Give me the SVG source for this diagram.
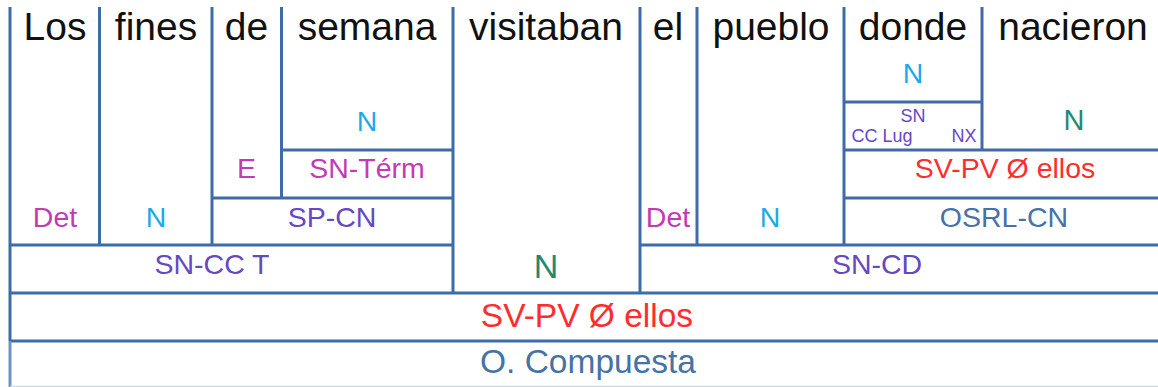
<svg xmlns="http://www.w3.org/2000/svg" width="1158" height="387" viewBox="0 0 1158 387">
<style>
text{font-family:"Liberation Sans",Arial,sans-serif;text-anchor:middle}
.w{font-size:39px;fill:#111}
.l{font-size:28.5px}
.b{font-size:33.5px}
.s{font-size:18px;fill:#6548c4}
.mag{fill:#c23bb5}
.cy{fill:#1ea8ec}
.pu{fill:#6548c4}
.gr{fill:#1f8a70}
.rd{fill:#ff2d2d}
.bl{fill:#4672a6}
.ln{stroke:#3d6ca6;stroke-width:3;fill:none}
</style>
<rect width="1158" height="387" fill="#fff"/>
<g id="grid" class="ln">
<path d="M10 7V341M99.5 7V245M212 7V245M281.5 7V198M453 7V293M640 7V293M697 7V245M844 7V245M982 7V150"/>
<path d="M844 102H982M281.5 150H453M844 150H1158M212 198H453M844 198H1158M10 245H453M640 245H1158M10 293H1158M10 341H1158"/>
<path d="M10 341V387" stroke="#6d93c0"/>
<path d="M10 386.5H1158" stroke="#c9d8ea" stroke-width="1.5"/>
</g>
<g id="words" class="w">
<text x="55" y="40">Los</text>
<text x="156" y="40">fines</text>
<text x="246.5" y="40">de</text>
<text x="367" y="40">semana</text>
<text x="546" y="40">visitaban</text>
<text x="668" y="40">el</text>
<text x="771" y="40">pueblo</text>
<text x="913" y="40">donde</text>
<text x="1073" y="40">nacieron</text>
</g>
<g id="n-los"><text class="l mag" x="55" y="227">Det</text></g>
<g id="n-fines"><text class="l cy" x="156" y="227">N</text></g>
<g id="n-de"><text class="l mag" x="246.5" y="178">E</text></g>
<g id="n-semana"><text class="l cy" x="367" y="131">N</text></g>
<g id="n-sntermino"><text class="l mag" x="367" y="178">SN-Térm</text></g>
<g id="n-spcn"><text class="l pu" x="332" y="227">SP-CN</text></g>
<g id="n-sncct"><text class="l pu" x="212" y="274">SN-CC T</text></g>
<g id="n-visitaban"><text class="l gr" x="546" y="278" style="font-size:34px">N</text></g>
<g id="n-el"><text class="l mag" x="668" y="227">Det</text></g>
<g id="n-pueblo"><text class="l cy" x="770" y="227">N</text></g>
<g id="n-sncd"><text class="l pu" x="877" y="274">SN-CD</text></g>
<g id="n-donde"><text class="l cy" x="913" y="83">N</text></g>
<g id="n-sncclug">
<text class="s" x="913" y="122">SN</text>
<text class="s" x="882" y="142">CC Lug</text>
<text class="s" x="964" y="142">NX</text>
</g>
<g id="n-nacieron"><text class="l gr" x="1074" y="130" style="font-size:29px">N</text></g>
<g id="n-svpv2"><text class="l rd" x="1005" y="178">SV-PV Ø ellos</text></g>
<g id="n-osrl"><text class="l bl" x="1004" y="227">OSRL-CN</text></g>
<g id="n-svpv1"><text class="b rd" x="587" y="327">SV-PV Ø ellos</text></g>
<g id="n-ocomp"><text class="b bl" x="588" y="373">O. Compuesta</text></g>
</svg>
